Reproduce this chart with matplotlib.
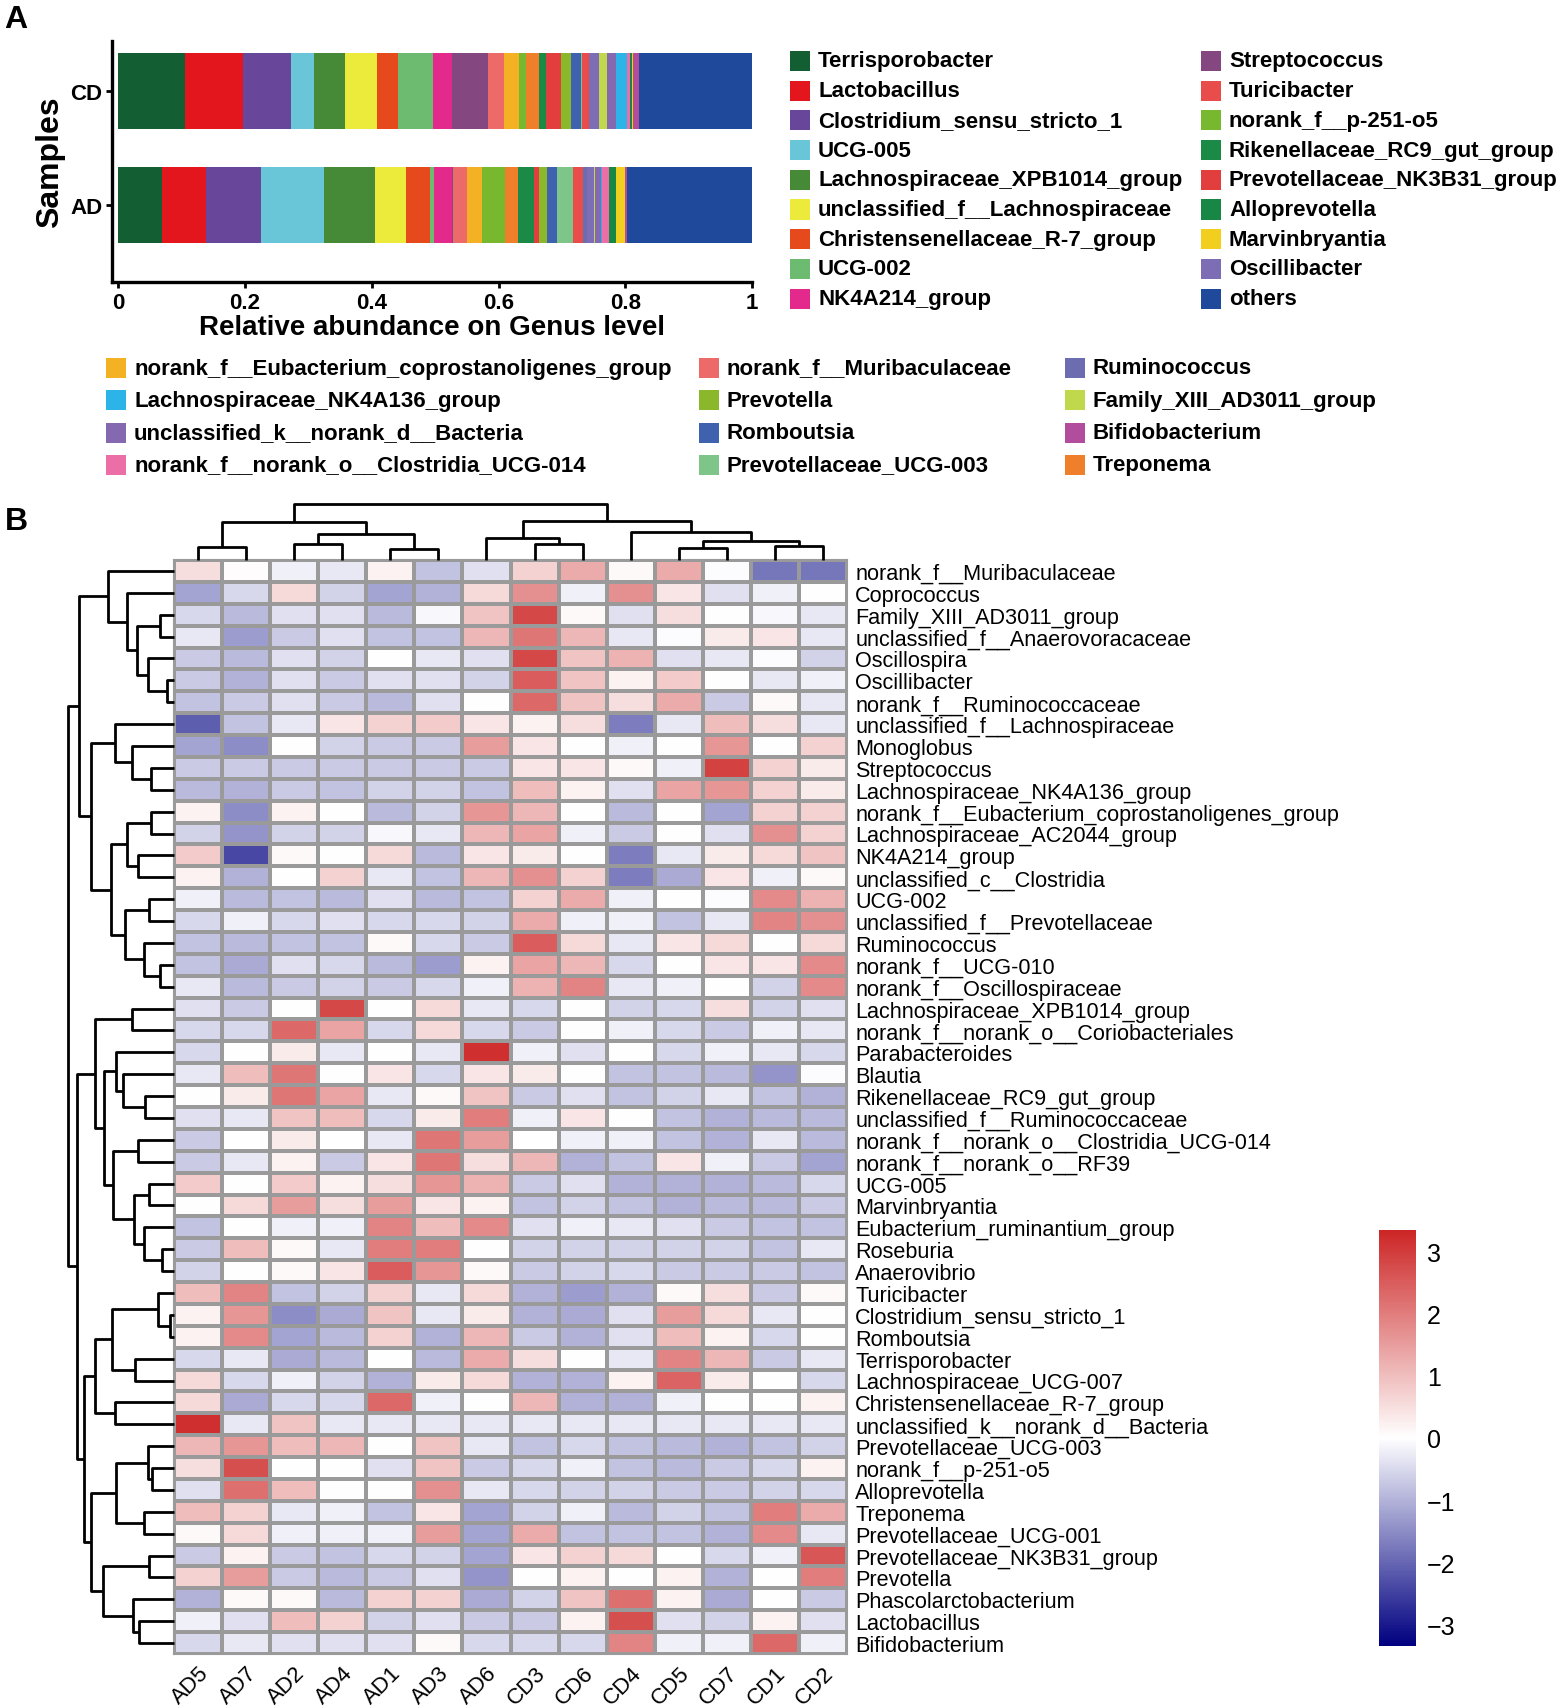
import numpy as np
import matplotlib
matplotlib.use("Agg")
import matplotlib.pyplot as plt
from matplotlib.colors import LinearSegmentedColormap
from matplotlib.patches import Rectangle

plt.rcParams['font.family'] = ['Liberation Sans', 'DejaVu Sans']

W, H = 1562, 1708

# ---------------- panel A data ----------------
samples = ['AD', 'CD']
genus_order = ['Terrisporobacter', 'Lactobacillus', 'Clostridium_sensu_stricto_1', 'UCG-005',
               'Lachnospiraceae_XPB1014_group', 'unclassified_f__Lachnospiraceae',
               'Christensenellaceae_R-7_group', 'UCG-002', 'NK4A214_group', 'Streptococcus',
               'norank_f__Muribaculaceae', 'norank_f__Eubacterium_coprostanoligenes_group',
               'norank_f__p-251-o5', 'Treponema', 'Rikenellaceae_RC9_gut_group',
               'Prevotellaceae_NK3B31_group', 'Prevotella', 'Romboutsia', 'Prevotellaceae_UCG-003',
               'Turicibacter', 'Ruminococcus', 'Oscillibacter', 'Family_XIII_AD3011_group',
               'unclassified_k__norank_d__Bacteria', 'Lachnospiraceae_NK4A136_group',
               'norank_f__norank_o__Clostridia_UCG-014', 'Alloprevotella', 'Marvinbryantia',
               'Bifidobacterium', 'others']
abund_AD = [0.069, 0.070, 0.086, 0.099, 0.081, 0.049, 0.038, 0.006, 0.029, 0.001,
            0.022, 0.024, 0.036, 0.021, 0.025, 0.008, 0.012, 0.016, 0.025, 0.017,
            0.006, 0.010, 0.003, 0.008, 0.002, 0.012, 0.011, 0.013, 0.004, 0.197]
abund_CD = [0.105, 0.091, 0.076, 0.037, 0.049, 0.050, 0.033, 0.056, 0.030, 0.056,
            0.025, 0.024, 0.011, 0.021, 0.011, 0.023, 0.017, 0.015, 0.002, 0.010,
            0.000, 0.017, 0.012, 0.015, 0.016, 0.006, 0.002, 0.002, 0.010, 0.178]
genus_colors = {
    'Terrisporobacter': '#135f33', 'Lactobacillus': '#e3161e', 'Clostridium_sensu_stricto_1': '#68479a',
    'UCG-005': '#69c6d8', 'Lachnospiraceae_XPB1014_group': '#468937',
    'unclassified_f__Lachnospiraceae': '#ecea3b', 'Christensenellaceae_R-7_group': '#e6491c',
    'UCG-002': '#6dbb71', 'NK4A214_group': '#e3298b', 'Streptococcus': '#844780',
    'Turicibacter': '#e84d4b', 'norank_f__p-251-o5': '#77b82e', 'Rikenellaceae_RC9_gut_group': '#1b8a46',
    'Prevotellaceae_NK3B31_group': '#e23e3e', 'Alloprevotella': '#188745', 'Marvinbryantia': '#f2cf1e',
    'Oscillibacter': '#7c6db4', 'others': '#1f4a9b',
    'norank_f__Eubacterium_coprostanoligenes_group': '#f4b123', 'Lachnospiraceae_NK4A136_group': '#2cb3e8',
    'unclassified_k__norank_d__Bacteria': '#8468b0', 'norank_f__norank_o__Clostridia_UCG-014': '#ec6ea6',
    'norank_f__Muribaculaceae': '#ec6a68', 'Prevotella': '#8bb72b', 'Romboutsia': '#3e62ae',
    'Prevotellaceae_UCG-003': '#7dc589', 'Ruminococcus': '#6c6db1', 'Family_XIII_AD3011_group': '#c0d84b',
    'Bifidobacterium': '#b24d9e', 'Treponema': '#ef7f2b'}
legend_right = ['Terrisporobacter', 'Lactobacillus', 'Clostridium_sensu_stricto_1', 'UCG-005',
                'Lachnospiraceae_XPB1014_group', 'unclassified_f__Lachnospiraceae',
                'Christensenellaceae_R-7_group', 'UCG-002', 'NK4A214_group',
                'Streptococcus', 'Turicibacter', 'norank_f__p-251-o5', 'Rikenellaceae_RC9_gut_group',
                'Prevotellaceae_NK3B31_group', 'Alloprevotella', 'Marvinbryantia', 'Oscillibacter', 'others']
legend_bottom = ['norank_f__Eubacterium_coprostanoligenes_group', 'Lachnospiraceae_NK4A136_group',
                 'unclassified_k__norank_d__Bacteria', 'norank_f__norank_o__Clostridia_UCG-014',
                 'norank_f__Muribaculaceae', 'Prevotella', 'Romboutsia', 'Prevotellaceae_UCG-003',
                 'Ruminococcus', 'Family_XIII_AD3011_group', 'Bifidobacterium', 'Treponema']

# ---------------- panel B data ----------------
col_names = ['AD5', 'AD7', 'AD2', 'AD4', 'AD1', 'AD3', 'AD6', 'CD3', 'CD6', 'CD4', 'CD5', 'CD7', 'CD1', 'CD2']
row_names = ['norank_f__Muribaculaceae', 'Coprococcus', 'Family_XIII_AD3011_group',
             'unclassified_f__Anaerovoracaceae', 'Oscillospira', 'Oscillibacter',
             'norank_f__Ruminococcaceae', 'unclassified_f__Lachnospiraceae', 'Monoglobus',
             'Streptococcus', 'Lachnospiraceae_NK4A136_group',
             'norank_f__Eubacterium_coprostanoligenes_group', 'Lachnospiraceae_AC2044_group',
             'NK4A214_group', 'unclassified_c__Clostridia', 'UCG-002', 'unclassified_f__Prevotellaceae',
             'Ruminococcus', 'norank_f__UCG-010', 'norank_f__Oscillospiraceae',
             'Lachnospiraceae_XPB1014_group', 'norank_f__norank_o__Coriobacteriales', 'Parabacteroides',
             'Blautia', 'Rikenellaceae_RC9_gut_group', 'unclassified_f__Ruminococcaceae',
             'norank_f__norank_o__Clostridia_UCG-014', 'norank_f__norank_o__RF39', 'UCG-005',
             'Marvinbryantia', 'Eubacterium_ruminantium_group', 'Roseburia', 'Anaerovibrio',
             'Turicibacter', 'Clostridium_sensu_stricto_1', 'Romboutsia', 'Terrisporobacter',
             'Lachnospiraceae_UCG-007', 'Christensenellaceae_R-7_group', 'unclassified_k__norank_d__Bacteria',
             'Prevotellaceae_UCG-003', 'norank_f__p-251-o5', 'Alloprevotella', 'Treponema',
             'Prevotellaceae_UCG-001', 'Prevotellaceae_NK3B31_group', 'Prevotella',
             'Phascolarctobacterium', 'Lactobacillus', 'Bifidobacterium']
zscore = [
    [0.5, 0.05, -0.2, -0.3, 0.2, -0.8, -0.4, 0.7, 1.3, 0.1, 1.3, -0.05, -1.8, -1.8],
    [-1.2, -0.5, 0.6, -0.6, -1.2, -1.0, 0.6, 1.7, -0.2, 1.7, 0.4, -0.4, -0.2, 0.0],
    [-0.5, -0.9, -0.4, -0.4, -0.9, -0.1, 0.9, 2.8, 0.1, -0.4, 0.5, 0.0, -0.1, -0.3],
    [-0.3, -1.3, -0.7, -0.4, -0.8, -0.8, 1.1, 2.1, 1.1, -0.3, -0.05, 0.3, 0.4, -0.3],
    [-0.7, -0.9, -0.4, -0.6, 0.0, -0.3, -0.4, 2.8, 0.9, 1.2, -0.4, -0.3, -0.05, -0.6],
    [-0.7, -1.0, -0.4, -0.7, -0.4, -0.4, -0.6, 2.5, 0.9, 0.2, 0.8, 0.0, -0.3, -0.2],
    [-0.8, -0.7, -0.4, -0.7, -0.9, -0.4, 0.0, 2.3, 0.9, 0.5, 1.3, -0.7, 0.1, -0.3],
    [-2.1, -0.8, -0.3, 0.4, 0.7, 0.8, 0.4, 0.2, 0.5, -1.7, -0.3, 1.0, 0.5, -0.3],
    [-1.2, -1.5, 0.0, -0.6, -0.7, -0.7, 1.5, 0.4, 0.0, -0.2, 0.0, 1.6, 0.0, 0.7],
    [-0.7, -0.7, -0.7, -0.7, -0.7, -0.7, -0.7, 0.4, 0.4, 0.1, -0.2, 2.9, 0.7, 0.3],
    [-0.9, -1.0, -0.7, -0.8, -0.6, -0.6, -0.8, 1.0, 0.2, -0.4, 1.4, 1.6, 0.7, 0.3],
    [0.2, -1.5, 0.2, 0.0, -0.9, -0.6, 1.6, 1.1, 0.0, -0.9, 0.0, -1.2, 0.7, 0.7],
    [-0.6, -1.4, -0.6, -0.6, -0.1, -0.3, 1.1, 1.4, -0.2, -0.7, 0.0, -0.4, 1.7, 0.7],
    [0.8, -2.4, 0.1, 0.0, 0.6, -0.9, 0.4, 0.3, 0.0, -1.7, -0.3, 0.3, 0.6, 0.9],
    [0.2, -1.0, 0.0, 0.7, -0.3, -0.8, 1.1, 1.7, 0.7, -1.7, -1.1, 0.4, -0.2, 0.1],
    [-0.2, -0.9, -0.8, -0.9, -0.4, -0.9, -0.8, 0.7, 1.3, -0.2, 0.0, -0.05, 1.8, 1.2],
    [-0.5, -0.2, -0.5, -0.4, -0.5, -0.5, -0.6, 1.3, -0.2, -0.2, -0.8, -0.3, 1.9, 1.7],
    [-0.8, -0.9, -0.8, -0.8, 0.1, -0.5, -0.7, 2.5, 0.6, -0.3, 0.4, 0.6, 0.0, 0.6],
    [-0.8, -1.1, -0.4, -0.5, -0.9, -1.3, 0.2, 1.4, 1.1, -0.5, 0.0, 0.4, 0.4, 1.8],
    [-0.3, -0.9, -0.7, -0.6, -0.7, -0.5, -0.2, 1.2, 1.9, -0.3, -0.2, 0.0, -0.6, 1.8],
    [-0.4, -0.7, 0.0, 2.8, 0.0, 0.6, -0.3, -0.5, 0.0, -0.6, -0.5, 0.5, -0.6, -0.4],
    [-0.5, -0.5, 2.3, 1.4, -0.5, 0.6, -0.5, -0.7, 0.0, -0.2, -0.5, -0.7, -0.2, -0.3],
    [-0.5, 0.0, 0.3, -0.3, 0.0, -0.3, 3.2, -0.2, -0.4, 0.0, -0.5, -0.2, -0.3, -0.5],
    [-0.3, 1.0, 2.1, 0.0, 0.4, -0.5, 0.4, 0.3, 0.0, -0.8, -0.8, -0.9, -1.4, -0.05],
    [0.0, 0.3, 2.1, 1.4, -0.3, 0.1, 0.9, -0.7, -0.4, -0.8, -0.6, -0.3, -0.8, -1.0],
    [-0.4, -0.3, 0.9, 1.0, -0.5, 0.3, 2.0, -0.2, 0.4, 0.0, -0.8, -1.0, -0.9, -0.9],
    [-0.7, 0.0, 0.3, 0.0, -0.3, 2.1, 1.5, 0.0, -0.2, -0.2, -0.8, -1.0, -0.3, -0.9],
    [-0.7, -0.3, 0.2, -0.7, 0.4, 2.1, 0.5, 1.1, -1.0, -0.8, 0.4, -0.2, -0.7, -1.2],
    [0.8, 0.0, 0.8, 0.2, 0.5, 1.6, 1.2, -0.7, -0.4, -1.0, -1.0, -1.0, -0.9, -0.5],
    [0.0, 0.6, 1.5, 0.5, 1.5, 0.4, 0.2, -0.8, -0.6, -0.8, -1.0, -0.9, -0.9, -0.7],
    [-0.8, 0.0, -0.2, -0.2, 1.9, 1.0, 1.8, -0.4, -0.2, -0.3, -0.4, -0.7, -0.8, -0.8],
    [-0.7, 1.0, 0.1, -0.3, 2.0, 2.0, 0.0, -0.6, -0.6, -0.6, -0.6, -0.6, -0.8, -0.3],
    [-0.6, 0.0, 0.1, 0.4, 2.5, 1.6, 0.1, -0.7, -0.6, -0.5, -0.7, -0.7, -0.7, -0.8],
    [1.0, 1.9, -0.8, -0.6, 0.7, -0.3, 0.6, -1.0, -1.3, -1.0, 0.1, 0.5, -0.7, 0.1],
    [0.2, 1.6, -1.5, -1.1, 0.9, -0.3, 0.3, -1.0, -1.1, -0.4, 1.5, 0.6, -0.3, 0.0],
    [0.2, 1.8, -1.2, -0.9, 0.7, -1.0, 1.1, -0.7, -1.0, -0.4, 1.0, 0.2, -0.5, 0.0],
    [-0.5, -0.3, -1.1, -0.9, 0.0, -0.9, 1.3, 0.5, 0.0, -0.3, 1.9, 1.1, -0.7, -0.3],
    [0.6, -0.5, -0.2, -0.6, -1.0, 0.3, 0.6, -1.0, -1.0, 0.2, 2.4, 0.3, 0.0, -0.5],
    [0.6, -1.1, -0.5, -0.5, 2.3, -0.2, 0.0, 1.1, -1.0, -1.0, -0.2, 0.0, 0.0, 0.2],
    [3.2, -0.3, 0.9, -0.3, -0.3, -0.3, -0.3, -0.3, -0.3, -0.3, -0.3, -0.3, -0.3, -0.3],
    [1.1, 1.6, 1.0, 1.1, 0.0, 0.9, -0.3, -0.8, -0.5, -0.8, -0.9, -1.0, -0.8, -0.6],
    [0.5, 2.7, 0.0, 0.0, -0.4, 0.9, -0.7, -0.5, -0.2, -0.8, -0.9, -0.7, -0.5, 0.2],
    [-0.4, 2.2, 1.0, 0.0, 0.0, 1.7, -0.3, -0.5, -0.6, -0.6, -0.7, -0.7, -0.6, -0.5],
    [1.0, 0.7, -0.3, -0.2, -0.8, 0.4, -1.2, -0.6, -0.2, -0.9, -0.6, -0.8, 2.0, 1.3],
    [0.1, 0.6, -0.2, -0.2, -0.2, 1.5, -1.2, 1.3, -0.8, -0.8, -0.8, -1.0, 1.8, -0.3],
    [-0.7, 0.2, -0.7, -0.8, -0.5, -0.6, -1.2, 0.4, 0.7, 0.6, 0.0, -0.5, -0.2, 2.6],
    [0.7, 1.5, -0.7, -0.9, -0.7, -0.4, -1.4, 0.0, 0.2, 0.0, 0.2, -1.0, 0.0, 2.0],
    [-1.0, 0.1, 0.1, -0.9, 0.7, 0.7, -1.1, -0.6, 0.9, 2.2, 0.2, -1.1, 0.0, -0.7],
    [-0.2, -0.4, 1.0, 0.7, -0.6, -0.4, -0.7, -0.7, 0.2, 2.7, -0.4, -0.6, 0.2, -0.4],
    [-0.5, -0.3, -0.4, -0.4, -0.4, 0.1, -0.5, -0.5, -0.5, 1.9, -0.2, -0.2, 2.3, -0.2],
]
# dendrograms as (merge height, left, right); leaves are row / column indices
row_tree = (317,
            (285,
             (197, 0, (142, 1, (112, (42, 2, 3), (77, 4, (22, 5, 6))))),
             (247,
              (177, 7, (125, 8, (70, 9, 10))),
              (187,
               (142, (70, 11, 12), (107, 13, 14)),
               (147, (75, 15, 16), (89, 17, (42, 18, 19)))))),
            (289,
             (237,
              (127, 20, 21),
              (209,
               (174, 22, (152, 23, (87, 24, 25))),
               (182, (109, 26, 27), (120, (74, 28, 29), (89, 30, (37, 31, 32)))))),
             (269,
              (237, (185, (47, 33, (12, 34, 35)), (117, 36, 37)), (177, 38, 39)),
              (249,
               (174, (77, 40, (67, 41, 42)), (89, 43, 44)),
               (212, (75, 45, 46), (122, 47, (104, 48, 49)))))))
col_tree = (166,
            (113, (38, 0, 1), (78, (48, 2, 3), (33, 4, 5))),
            (116, (65, 6, (46, 7, 8)), (83, 9, (56, (35, 10, 11), (41, 12, 13)))))


def box(x0, y0, x1, y1):
    # pixel box (top-left origin) -> figure fraction rect
    return [x0 / W, 1 - y1 / H, (x1 - x0) / W, (y1 - y0) / H]


def draw_tree(ax, node, vertical):
    if isinstance(node, int):
        return node + 0.5, 0
    h, a, b = node
    ca, ha = draw_tree(ax, a, vertical)
    cb, hb = draw_tree(ax, b, vertical)
    if vertical:
        ax.plot([ca, ca, cb, cb], [ha, h, h, hb], color='black', lw=2.0, clip_on=False,
                solid_capstyle='butt')
    else:
        ax.plot([ha, h, h, hb], [ca, ca, cb, cb], color='black', lw=2.0, clip_on=False,
                solid_capstyle='butt')
    return (ca + cb) / 2, h


fig = plt.figure(figsize=(W / 100, H / 100), dpi=100)

# ---------------- panel A ----------------
axA = fig.add_axes(box(112, 42, 752, 283))
left = np.zeros(len(samples))
for i, g in enumerate(genus_order):
    vals = np.array([abund_AD[i], abund_CD[i]])
    axA.barh([0, 1], vals, left=left, height=0.67, color=genus_colors[g], edgecolor='none')
    left += vals
axA.set_xlim(-0.01, 1.0)
axA.set_ylim(-0.675, 1.44)
axA.spines['top'].set_visible(False)
axA.spines['right'].set_visible(False)
axA.spines['left'].set_linewidth(2.4)
axA.spines['bottom'].set_linewidth(2.4)
axA.set_xticks([0, 0.2, 0.4, 0.6, 0.8, 1.0])
axA.set_xticklabels(['0', '0.2', '0.4', '0.6', '0.8', '1'], fontsize=16, fontweight='bold')
axA.set_yticks([0, 1])
axA.set_yticklabels(samples, fontsize=16, fontweight='bold')
axA.tick_params(width=2, length=4, pad=3)
axA.set_xlabel('Relative abundance on Genus level', fontsize=20, fontweight='bold', labelpad=1)
axA.set_ylabel('Samples', fontsize=23, fontweight='bold', labelpad=4)

sq = 20
for i, g in enumerate(legend_right):
    cx = [790, 1201][i // 9]
    cy = 62 + (i % 9) * 29.7
    fig.add_artist(Rectangle((cx / W, 1 - (cy + sq / 2) / H), sq / W, sq / H,
                             transform=fig.transFigure, facecolor=genus_colors[g], edgecolor='none'))
    fig.text((cx + 28) / W, 1 - cy / H, g, fontsize=16, fontweight='bold', va='center', ha='left')
for i, g in enumerate(legend_bottom):
    cx = [106, 699, 1065][i // 4]
    cy = 369 + (i % 4) * 32.3
    fig.add_artist(Rectangle((cx / W, 1 - (cy + sq / 2) / H), sq / W, sq / H,
                             transform=fig.transFigure, facecolor=genus_colors[g], edgecolor='none'))
    fig.text((cx + 28) / W, 1 - cy / H, g, fontsize=16, fontweight='bold', va='center', ha='left')

fig.text(16 / W, 1 - 20 / H, 'A', fontsize=23, fontweight='bold', va='center', ha='center')
fig.text(16 / W, 1 - 522 / H, 'B', fontsize=23, fontweight='bold', va='center', ha='center')

# ---------------- panel B ----------------
cmap = LinearSegmentedColormap.from_list('nwf', ['#000080', '#ffffff', '#cd2626'])
hx0, hy0, hx1, hy1 = 174, 561, 847, 1655
axH = fig.add_axes(box(hx0, hy0, hx1, hy1))
mesh = axH.pcolormesh(np.array(zscore), cmap=cmap, vmin=-3.34, vmax=3.34,
                      edgecolors='#9a9a9a', linewidth=1.5)
axH.set_xlim(0, len(col_names))
axH.set_ylim(len(row_names), 0)
for s in axH.spines.values():
    s.set_edgecolor('#9a9a9a')
    s.set_linewidth(1.5)
axH.yaxis.tick_right()
axH.set_yticks(np.arange(len(row_names)) + 0.5)
axH.set_yticklabels(row_names, fontsize=15.6)
axH.set_xticks(np.arange(len(col_names)) + 0.5)
axH.set_xticklabels(col_names, fontsize=16, rotation=45, ha='right', va='top',
                    rotation_mode='anchor')
axH.tick_params(length=0, pad=6)

axR = fig.add_axes(box(68, hy0, hx0, hy1))
draw_tree(axR, row_tree, vertical=False)
axR.set_xlim(317, 0)
axR.set_ylim(len(row_names), 0)
axR.axis('off')

axC = fig.add_axes(box(hx0, 505, hx1, hy0))
draw_tree(axC, col_tree, vertical=True)
axC.set_xlim(0, len(col_names))
axC.set_ylim(0, 166)
axC.axis('off')

cax = fig.add_axes(box(1379, 1231, 1416, 1647))
cb = fig.colorbar(mesh, cax=cax, ticks=[-3, -2, -1, 0, 1, 2, 3])
cb.outline.set_visible(False)
cb.ax.tick_params(length=0, labelsize=18, pad=8)
cb.ax.set_yticklabels(['\u22123', '\u22122', '\u22121', '0', '1', '2', '3'])

fig.savefig('out.png', dpi=100)
